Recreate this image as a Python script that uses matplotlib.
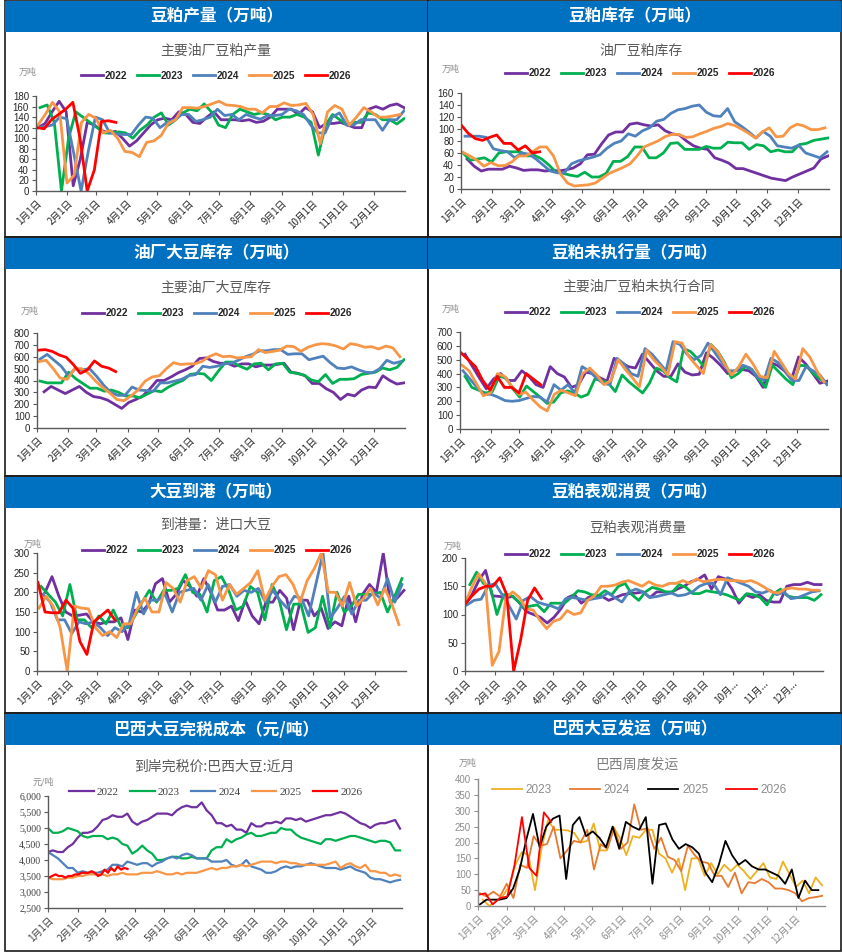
import matplotlib
matplotlib.use('Agg')
import matplotlib.pyplot as plt
import numpy as np
from matplotlib.patches import Rectangle
from matplotlib.ticker import FuncFormatter

plt.rcParams['font.family'] = ['Noto Sans CJK SC', 'DejaVu Sans']

# ---------------- data (weekly / daily values) ----------------
# 豆粕产量
prod_2022 = [120, 128, 150, 170, 150, 10, 60, 130, 125, 115, 110, 113, 100, 85, 95, 110, 125, 135, 138, 135,
             150, 145, 130, 128, 140, 150, 135, 135, 135, 133, 135, 130, 132, 140, 155, 155, 155, 145, 158, 150,
             120, 128, 128, 130, 125, 120, 120, 155, 160, 155, 162, 165, 158]
prod_2023 = [158, 163, 130, 0, 100, 150, 140, 130, 120, 110, 110, 112, 110, 100, 115, 125, 140, 148, 125, 135,
             148, 155, 152, 165, 150, 125, 120, 145, 155, 150, 145, 148, 145, 135, 140, 140, 145, 140, 130, 68,
             125, 145, 135, 125, 130, 130, 148, 145, 135, 135, 127, 137]
prod_2024 = [120, 122, 125, 140, 137, 70, 0, 75, 140, 135, 110, 108, 107, 107, 125, 140, 138, 120, 130, 135,
             145, 145, 132, 135, 140, 155, 143, 145, 135, 145, 140, 136, 143, 143, 145, 155, 152, 145, 125, 110,
             110, 140, 148, 125, 125, 135, 135, 135, 115, 135, 135, 152]
prod_2025 = [125, 145, 168, 150, 15, 30, 130, 145, 138, 110, 115, 100, 75, 73, 65, 92, 95, 105, 128, 135,
             158, 158, 157, 160, 165, 170, 163, 162, 160, 155, 155, 148, 160, 160, 167, 162, 163, 166, 145, 90,
             150, 162, 155, 125, 140, 158, 150, 140, 140, 142, 145]
prod_2026 = [120, 118, 135, 145, 155, 168, 100, 0, 40, 132, 133, 130]

# 豆粕库存
mstock_2022 = [50, 38, 30, 33, 33, 33, 38, 35, 31, 32, 32, 30, 31, 30, 32, 35, 42, 57, 58, 75,
               90, 95, 95, 108, 110, 107, 105, 107, 97, 92, 90, 80, 72, 68, 66, 52, 48, 43, 34, 34,
               30, 26, 22, 18, 16, 14, 20, 25, 30, 35, 50, 55]
mstock_2023 = [60, 48, 50, 52, 45, 60, 62, 62, 62, 55, 56, 50, 40, 28, 26, 23, 21, 28, 20, 20,
               26, 46, 46, 54, 70, 70, 52, 52, 60, 76, 77, 66, 66, 66, 71, 68, 68, 78, 77, 77,
               66, 74, 72, 62, 65, 62, 62, 74, 76, 81, 83, 85]
mstock_2024 = [88, 88, 88, 86, 67, 64, 62, 52, 60, 58, 50, 40, 30, 27, 27, 42, 47, 50, 53, 57,
               68, 76, 80, 92, 88, 97, 102, 113, 116, 126, 132, 134, 138, 140, 128, 122, 121, 134, 112, 104,
               95, 85, 96, 88, 72, 70, 68, 73, 60, 56, 52, 62]
mstock_2025 = [61, 55, 48, 38, 44, 39, 39, 45, 55, 55, 62, 70, 70, 55, 25, 10, 5, 6, 7, 10,
               18, 26, 31, 36, 42, 55, 70, 75, 80, 87, 91, 91, 86, 87, 92, 96, 101, 104, 109, 106,
               100, 93, 85, 95, 102, 87, 88, 102, 108, 105, 99, 99, 102]
mstock_2026 = [107, 93, 84, 81, 86, 90, 76, 76, 65, 72, 60, 62]

# 油厂大豆库存
bstock_2022 = [305, 350, 320, 290, 320, 350, 300, 265, 255, 235, 200, 165, 215, 240, 270, 330, 400, 400, 430, 465,
               490, 520, 585, 590, 560, 545, 545, 520, 540, 540, 515, 530, 530, 535, 545, 470, 460, 440, 375, 375,
               330, 300, 240, 285, 270, 320, 345, 340, 440, 400, 370, 380]
bstock_2023 = [395, 380, 380, 380, 470, 415, 375, 335, 335, 310, 320, 300, 270, 270, 255, 285, 315, 305, 345, 375,
               400, 450, 460, 455, 400, 480, 555, 555, 520, 495, 540, 545, 490, 540, 545, 470, 460, 445, 405, 390,
               450, 375, 410, 410, 415, 450, 460, 470, 505, 490, 510, 575]
bstock_2024 = [580, 620, 570, 520, 440, 500, 490, 500, 435, 360, 300, 275, 275, 345, 320, 315, 310, 380, 380, 395,
               410, 440, 450, 520, 510, 520, 540, 545, 570, 600, 620, 650, 650, 660, 660, 620, 625, 625, 575, 590,
               605, 550, 505, 500, 515, 490, 470, 465, 500, 570, 545, 560]
bstock_2025 = [560, 570, 500, 420, 410, 500, 500, 460, 395, 340, 295, 240, 230, 270, 320, 395, 430, 440, 500, 550,
               535, 540, 540, 560, 600, 625, 600, 605, 590, 595, 600, 660, 635, 645, 655, 690, 685, 645, 680, 700,
               710, 705, 690, 665, 710, 700, 680, 685, 665, 690, 675, 600]
bstock_2026 = [655, 660, 645, 615, 595, 535, 460, 490, 565, 520, 505, 475]

# 豆粕未执行合同
unexec_2022 = [540, 455, 370, 290, 360, 400, 350, 350, 420, 380, 320, 300, 450, 400, 375, 300, 320, 410, 400, 370,
               345, 510, 480, 450, 440, 540, 480, 420, 380, 380, 470, 410, 390, 395, 550, 510, 460, 400, 420, 430,
               420, 380, 300, 480, 460, 420, 360, 520, 470, 400, 330, 345]
unexec_2023 = [380, 300, 280, 260, 270, 380, 370, 290, 230, 310, 270, 230, 185, 195, 260, 275, 260, 230, 250, 360,
               350, 330, 270, 390, 340, 300, 260, 330, 440, 420, 370, 340, 580, 560, 510, 450, 610, 560, 480, 370,
               400, 450, 430, 360, 300, 460, 410, 360, 320, 460, 455, 400, 360, 330]
unexec_2024 = [420, 360, 300, 250, 250, 230, 205, 200, 205, 220, 235, 230, 195, 320, 280, 320, 260, 450, 420, 370,
               330, 320, 510, 470, 400, 380, 580, 540, 480, 420, 630, 610, 540, 500, 530, 620, 550, 480, 420, 420,
               460, 440, 380, 350, 510, 480, 420, 350, 350, 450, 420, 390, 320]
unexec_2025 = [460, 420, 330, 240, 260, 400, 380, 310, 250, 265, 210, 160, 130, 250, 280, 260, 240, 400, 440, 390,
               320, 350, 500, 430, 370, 305, 570, 500, 450, 390, 630, 620, 520, 460, 400, 610, 560, 470, 390, 450,
               540, 470, 380, 370, 560, 480, 400, 360, 580, 520, 420, 340]
unexec_2026 = [550, 500, 450, 350, 280, 380, 300, 300, 260, 400, 360, 320]

# 大豆到港
arrive_2022 = [200, 240, 190, 150, 140, 142, 145, 125, 120, 125, 125, 135, 80, 155, 150, 170, 222, 235, 175, 195,
               230, 215, 190, 235, 200, 155, 155, 165, 128, 180, 140, 120, 175, 175, 205, 185, 105, 180, 180, 140,
               160, 108, 125, 115, 190, 125, 195, 220, 200, 300, 175, 185, 205]
arrive_2023 = [215, 195, 175, 140, 220, 130, 130, 110, 140, 120, 155, 115, 110, 140, 175, 205, 175, 205, 205, 210,
               245, 200, 195, 150, 230, 240, 205, 155, 165, 215, 200, 130, 220, 180, 105, 170, 170, 98, 110, 190,
               110, 200, 150, 165, 195, 195, 195, 200, 150, 190, 235]
arrive_2024 = [195, 175, 130, 130, 95, 125, 120, 125, 110, 90, 110, 100, 120, 200, 145, 180, 180, 195, 150, 200,
               205, 210, 180, 220, 175, 215, 220, 190, 205, 200, 210, 175, 205, 180, 160, 190, 185, 140, 220, 300,
               135, 160, 190, 145, 180, 180, 200, 185, 235, 175, 220]
arrive_2025 = [160, 190, 165, 110, 0, 165, 160, 158, 110, 90, 100, 85, 120, 120, 160, 185, 150, 150, 225, 210,
               175, 230, 240, 210, 255, 245, 180, 220, 195, 210, 225, 255, 180, 215, 240, 245, 220, 175, 230, 260,
               300, 200, 200, 165, 225, 165, 185, 210, 168, 210, 170, 118]
arrive_2026 = [225, 150, 148, 148, 180, 160, 75, 42, 125, 140, 155, 130]

# 豆粕表观消费
consume_2022 = [118, 135, 160, 178, 133, 132, 130, 132, 120, 105, 100, 95, 85, 95, 110, 130, 135, 120, 130, 135,
                132, 125, 130, 135, 137, 138, 140, 130, 140, 140, 138, 145, 150, 158, 162, 170, 145, 167, 163, 145,
                120, 135, 130, 135, 125, 122, 122, 150, 153, 153, 157, 153, 153]
consume_2023 = [153, 175, 155, 150, 100, 135, 135, 125, 112, 115, 117, 105, 120, 120, 120, 130, 142, 140, 135, 133,
                142, 135, 150, 155, 135, 125, 140, 148, 145, 140, 140, 153, 148, 137, 137, 142, 140, 138, 135, 130,
                125, 137, 135, 130, 117, 137, 145, 133, 130, 130, 130, 125, 135]
consume_2024 = [117, 125, 127, 150, 155, 135, 115, 92, 125, 132, 122, 118, 115, 110, 128, 130, 128, 125, 128, 130,
                138, 130, 122, 140, 145, 140, 130, 132, 135, 138, 133, 135, 140, 150, 155, 155, 135, 165, 160, 155,
                150, 140, 138, 143, 135, 140, 128, 130, 135, 140, 142]
consume_2025 = [120, 148, 172, 155, 10, 35, 130, 140, 130, 110, 108, 90, 75, 88, 92, 107, 100, 103, 125, 133,
                150, 150, 152, 157, 160, 155, 150, 158, 152, 150, 155, 155, 160, 155, 163, 158, 160, 162, 162, 160,
                160, 158, 160, 155, 148, 140, 138, 145, 147, 145, 145, 143, 143]
consume_2026 = [118, 133, 145, 150, 150, 165, 135, 0, 55, 125, 147, 128]

# 巴西大豆完税成本
cost_2022 = [4250, 4300, 4250, 4250, 4400, 4500, 4700, 4850, 4850, 4900, 5050, 5250, 5300, 5400, 5350, 5350, 5450, 5200,
             5100, 5200, 5250, 5350, 5450, 5450, 5450, 5400, 5550, 5650, 5700, 5650, 5650, 5800, 5550, 5400, 5150, 5150,
             5050, 5100, 4950, 4950, 4850, 5150, 5050, 5050, 5150, 5150, 5200, 5150, 5300, 5300, 5250, 5300, 5200, 5250,
             5300, 5350, 5400, 5400, 5450, 5500, 5450, 5350, 5250, 5150, 5100, 5000, 5100, 5150, 5150, 5200, 5250, 4980]
cost_2023 = [5000, 4850, 4850, 4900, 5000, 4950, 4900, 4750, 4700, 4750, 4750, 4750, 4650, 4700, 4650, 4500, 4450, 4200,
             4300, 4450, 4300, 4200, 4000, 4000, 4050, 4100, 4100, 4050, 4050, 4100, 4050, 4050, 4050, 4300, 4400, 4400,
             4650, 4550, 4650, 4700, 4800, 4850, 4750, 4750, 4800, 4850, 4850, 5000, 4950, 4950, 4800, 4700, 4650, 4600,
             4550, 4500, 4650, 4650, 4600, 4650, 4700, 4750, 4750, 4700, 4650, 4600, 4550, 4600, 4600, 4550, 4300, 4300]
cost_2024 = [4250, 4150, 4050, 3900, 3750, 3750, 3600, 3650, 3600, 3600, 3600, 3650, 3700, 3850, 3850, 3800, 3950, 3900,
             3850, 3900, 3900, 3800, 3900, 3950, 4050, 4100, 4050, 4150, 4200, 4150, 4050, 4050, 4050, 3950, 3950, 3950,
             4000, 3850, 3800, 3850, 4000, 3800, 3750, 3700, 3600, 3600, 3650, 3750, 3800, 3750, 3800, 3800, 3850, 3900,
             3850, 3800, 3750, 3750, 3750, 3700, 3750, 3800, 3700, 3650, 3600, 3450, 3400, 3400, 3350, 3300, 3350, 3380]
cost_2025 = [3450, 3400, 3400, 3400, 3450, 3450, 3500, 3500, 3550, 3550, 3550, 3550, 3500, 3550, 3550, 3600, 3550, 3550,
             3550, 3600, 3600, 3600, 3650, 3600, 3550, 3550, 3600, 3550, 3600, 3600, 3600, 3650, 3700, 3750, 3700, 3750,
             3750, 3800, 3800, 3850, 3800, 3850, 3900, 3950, 3950, 3950, 3900, 3950, 3950, 3900, 3900, 3850, 3850, 3850,
             3850, 3850, 3850, 3900, 3950, 3750, 3850, 3900, 3800, 3750, 3850, 3650, 3650, 3600, 3600, 3500, 3550, 3500]
cost_2026 = [3450, 3500, 3550, 3500, 3500, 3450, 3500, 3500, 3550, 3550, 3600, 3600, 3600, 3650, 3600, 3500, 3550,
             3700, 3600, 3750, 3650, 3800, 3700, 3750, 3720]

# 巴西周度发运
ship_2023 = [20, 0, 15, 30, 60, 130, 170, 160, 50, 180, 270, 240, 240, 238, 230, 200, 205, 260, 175, 175,
             250, 215, 160, 220, 215, 240, 240, 165, 150, 105, 150, 50, 150, 150, 95, 135, 100, 130, 110, 130,
             110, 85, 110, 135, 90, 85, 140, 100, 60, 80, 40, 90, 65]
ship_2024 = [40, 30, 45, 30, 70, 25, 130, 120, 220, 190, 195, 250, 150, 175, 205, 200, 240, 115, 195, 180,
             245, 180, 200, 320, 240, 245, 180, 215, 155, 145, 110, 190, 160, 140, 135, 95, 95, 60, 105, 40,
             75, 72, 85, 75, 55, 55, 50, 40, 15, 25, 28, 32]
ship_2025 = [5, 20, 20, 20, 25, 55, 115, 210, 290, 185, 250, 275, 285, 85, 255, 280, 220, 235, 215, 185,
             250, 180, 265, 250, 240, 280, 70, 255, 260, 210, 180, 195, 185, 165, 105, 75, 130, 205, 160, 130,
             145, 125, 115, 115, 105, 95, 70, 115, 25, 80, 50, 50]
ship_2026 = [35, 40, 5, 25, 30, 130, 280, 120, 95, 295, 265]

# first / last day-of-year of each series
prod_span = {2022: (2, 364), 2023: (4, 364), 2024: (2, 364), 2025: (2, 360), 2026: (1, 79)}
mstock_span = {2022: (6, 364), 2023: (2, 364), 2024: (4, 363), 2025: (2, 361), 2026: (0, 78)}
bstock_span = {2022: (7, 364), 2023: (3, 364), 2024: (3, 361), 2025: (2, 360), 2026: (1, 78)}
unexec_span = {2022: (5, 364), 2023: (5, 364), 2024: (3, 364), 2025: (2, 361), 2026: (1, 80)}
arrive_span = {2022: (8, 363), 2023: (4, 361), 2024: (6, 361), 2025: (2, 358), 2026: (1, 77)}
consume_span = {2022: (0, 363), 2023: (5, 363), 2024: (2, 361), 2025: (0, 361), 2026: (0, 78)}
cost_span = {2022: (0, 363), 2023: (0, 363), 2024: (0, 363), 2025: (0, 363), 2026: (1, 82)}
ship_span = {2023: (5, 362), 2024: (2, 362), 2025: (2, 358), 2026: (0, 77)}

month_days = [0, 31, 59, 90, 120, 151, 181, 212, 243, 273, 304, 334]
month_labels = [f'{m}月1日' for m in range(1, 13)]
month_labels_cut = month_labels[:9] + ['10月...', '11月...', '12月...']

YEAR_COLORS = {2022: '#7030A0', 2023: '#00B050', 2024: '#4F81BD', 2025: '#F79646', 2026: '#FF0000'}
SHIP_COLORS = {2023: '#EDB120', 2024: '#E8792E', 2025: '#000000', 2026: '#FF0000'}
BLUE = '#0070C0'

W, H = 842, 952
fig = plt.figure(figsize=(W / 100, H / 100), dpi=100)


def px_axes(l, t, r, b):
    return fig.add_axes([l / W, 1 - b / H, (r - l) / W, (b - t) / H])


def ftext(x, y, s, **kw):
    fig.text(x / W, 1 - y / H, s, **kw)


def frame(x0, y0, x1, y1, header):
    fig.patches.append(Rectangle((x0 / W, 1 - y1 / H), (x1 - x0) / W, (y1 - y0) / H,
                                 transform=fig.transFigure, fill=False, ec='#1a1a1a', lw=1.2))
    fig.patches.append(Rectangle((x0 / W, 1 - (y0 + 32) / H), (x1 - x0) / W, 31 / H,
                                 transform=fig.transFigure, fc=BLUE, ec='none'))
    ftext((x0 + x1) / 2, y0 + 16.5, header, color='white', fontsize=12, fontweight='bold',
          ha='center', va='center')


def panel(box, series, spans, colors, ylim, ystep, title, title_xy, unit, unit_xy, leg_xy,
          lw=2.0, numfont='Liberation Sans', tick_color='#262626', xlabels=month_labels,
          fmt=None, leg_kw=None, title_color='#595959', spine_color='#595959'):
    ax = px_axes(*box)
    for yr, vals in series.items():
        d0, d1 = spans[yr]
        x = np.linspace(d0, d1, len(vals))
        ax.plot(x, vals, color=colors[yr], lw=lw, label=str(yr), solid_joinstyle='round')
    ax.set_xlim(0, 365)
    ax.set_ylim(*ylim)
    ax.set_yticks(np.arange(ylim[0], ylim[1] + 1, ystep))
    if fmt:
        ax.yaxis.set_major_formatter(FuncFormatter(fmt))
    ax.set_xticks(month_days)
    ax.set_xticklabels(xlabels, rotation=45, ha='right', va='top', rotation_mode='anchor',
                       fontsize=7, color=tick_color)
    for lab in ax.get_yticklabels():
        lab.set_fontfamily(numfont)
        lab.set_fontsize(7)
        lab.set_color(tick_color)
    for s in ['top', 'right']:
        ax.spines[s].set_visible(False)
    for s in ['left', 'bottom']:
        ax.spines[s].set_color(spine_color)
        ax.spines[s].set_linewidth(1.0)
    ax.tick_params(axis='both', length=3, width=0.8, color=spine_color, pad=2)
    ax.patch.set_alpha(0)
    # legend
    kw = dict(family='Liberation Sans', fontsize=7.2, weight='bold',
              handlelength=2.2, handletextpad=0.15, columnspacing=1.0)
    if leg_kw:
        kw.update(leg_kw)
    prop = {'family': kw.pop('family'), 'size': kw.pop('fontsize'), 'weight': kw.pop('weight')}
    leg = ax.legend(loc='center', bbox_to_anchor=(leg_xy[0] / W, 1 - leg_xy[1] / H),
                    bbox_transform=fig.transFigure, ncol=len(series), frameon=False,
                    borderpad=0, prop=prop, **kw)
    for t in leg.get_texts():
        t.set_color(tick_color)
    ftext(*title_xy, title, color=title_color, fontsize=10, ha='center', va='center')
    ftext(*unit_xy, unit, color='#8c8c8c', fontsize=6.5, ha='center', va='center')
    return ax


# panel frames
rows = [(0, 237), (237, 476), (476, 713), (713, 951)]
headers = [('豆粕产量（万吨）', '豆粕库存（万吨）'),
           ('油厂大豆库存（万吨）', '豆粕未执行量（万吨）'),
           ('大豆到港（万吨）', '豆粕表观消费（万吨）'),
           ('巴西大豆完税成本（元/吨）', '巴西大豆发运（万吨）')]
for (y0, y1), (hl, hr) in zip(rows, headers):
    frame(4.5, y0, 428, y1, hl)
    frame(428, y0, 841, y1, hr)

years = [2022, 2023, 2024, 2025, 2026]

panel((36, 96, 405, 191),
      dict(zip(years, [prod_2022, prod_2023, prod_2024, prod_2025, prod_2026])), prod_span, YEAR_COLORS,
      (0, 180), 20, '主要油厂豆粕产量', (216, 50), '万吨', (28, 72), (216, 76))

panel((461, 93, 829, 189),
      dict(zip(years, [mstock_2022, mstock_2023, mstock_2024, mstock_2025, mstock_2026])), mstock_span, YEAR_COLORS,
      (0, 160), 20, '油厂豆粕库存', (641, 51), '万吨', (451, 69), (640, 73))

panel((37, 333, 405, 428),
      dict(zip(years, [bstock_2022, bstock_2023, bstock_2024, bstock_2025, bstock_2026])), bstock_span, YEAR_COLORS,
      (0, 800), 100, '主要油厂大豆库存', (216, 288), '万吨', (30, 311), (217, 313))

panel((460, 332, 828, 429),
      dict(zip(years, [unexec_2022, unexec_2023, unexec_2024, unexec_2025, unexec_2026])), unexec_span, YEAR_COLORS,
      (0, 700), 100, '主要油厂豆粕未执行合同', (639, 287), '万吨', (451, 309), (640, 312))

panel((37, 553, 406, 671),
      dict(zip(years, [arrive_2022, arrive_2023, arrive_2024, arrive_2025, arrive_2026])), arrive_span, YEAR_COLORS,
      (0, 300), 50, '到港量：进口大豆', (216, 525), '万吨', (33, 544), (217, 550))

panel((465, 558, 823, 671),
      dict(zip(years, [consume_2022, consume_2023, consume_2024, consume_2025, consume_2026])), consume_span,
      YEAR_COLORS, (0, 200), 50, '豆粕表观消费量', (638, 528), '万吨', (453, 546), (640, 554),
      xlabels=month_labels_cut)

panel((48, 796, 402, 908),
      dict(zip(years, [cost_2022, cost_2023, cost_2024, cost_2025, cost_2026])), cost_span, YEAR_COLORS,
      (2500, 6000), 500, '到岸完税价:巴西大豆:近月', (214, 767), '元/吨', (43, 782), (216, 792),
      lw=1.6, numfont='Liberation Serif', tick_color='#404040', fmt=lambda v, p: f'{v:,.0f}',
      leg_kw=dict(family='Liberation Serif', fontsize=8, weight='normal', handletextpad=0.3))

panel((478, 779, 825, 906),
      dict(zip([2023, 2024, 2025, 2026], [ship_2023, ship_2024, ship_2025, ship_2026])), ship_span, SHIP_COLORS,
      (0, 400), 50, '巴西周度发运', (637, 765), '万吨', (468, 763), (639, 790),
      lw=1.3, tick_color='#8c8c8c', title_color='#7f7f7f', spine_color='#8c8c8c',
      leg_kw=dict(fontsize=8.5, weight='normal', handlelength=2.6, handletextpad=0.3, columnspacing=1.5))

fig.savefig('out.png', dpi=100)
